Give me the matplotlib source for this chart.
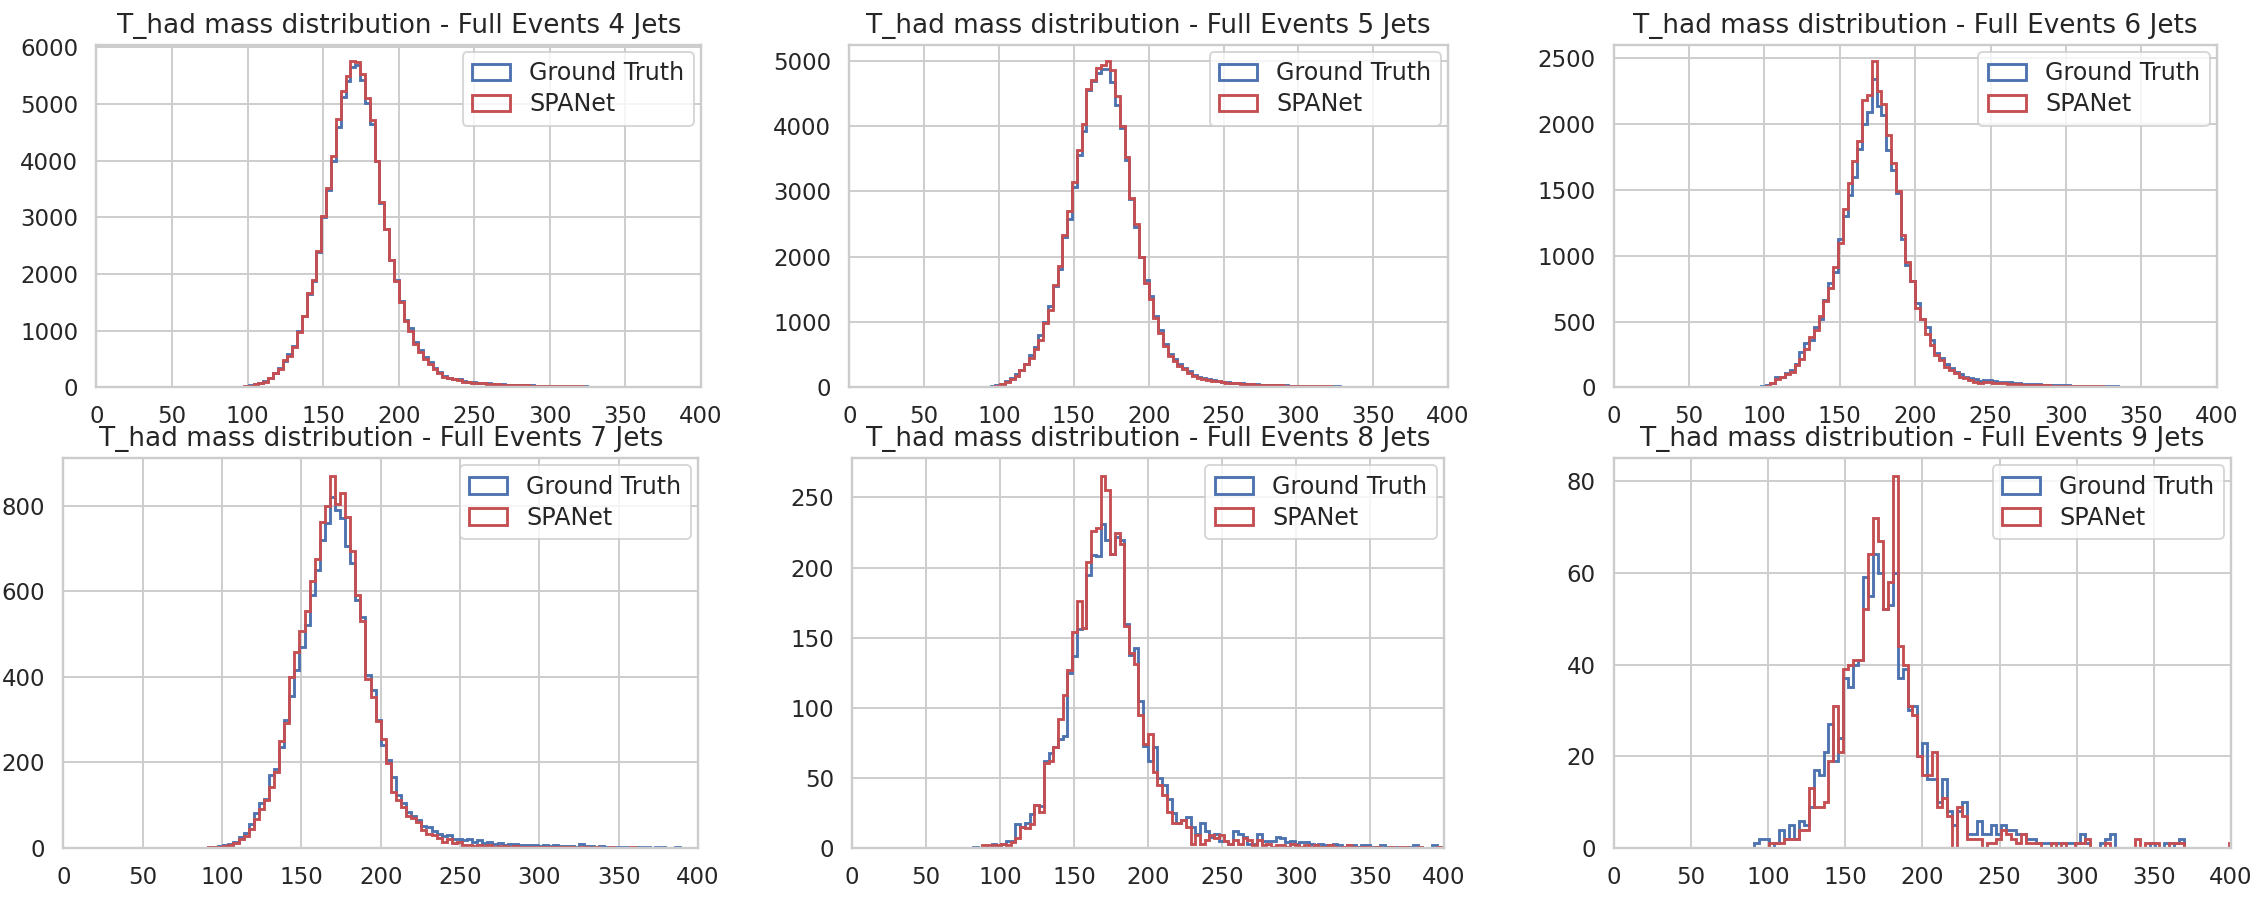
import numpy as np
import matplotlib.pyplot as plt
import seaborn as sns

sns.set_theme(style="whitegrid")

# histogram binning: 125 bins of 3.2 GeV
bin_edges = 1.6 + 3.2 * np.arange(126)
first_bin = 25  # the count lists below start at bin 25 (81.6 GeV)

jet_counts = [4, 5, 6, 7, 8, 9]

# --- 4 jets ---
truth_4j = [0, 3, 6, 9, 14, 22, 34, 52, 75, 110,
            170, 255, 345, 470, 590, 730, 1000, 1260, 1650, 1880,
            2380, 3000, 3490, 4000, 4600, 5130, 5400, 5650, 5680, 5430,
            5020, 4640, 4000, 3260, 2790, 2250, 1900, 1530, 1190, 1040,
            800, 650, 540, 450, 345, 270, 205, 172, 150, 138,
            110, 98, 90, 82, 76, 68, 63, 57, 52, 49,
            45, 43, 39, 37, 33, 31, 28, 26, 24, 23,
            21, 20, 18, 17, 16, 15, 14, 13, 12, 12,
            11, 10, 10, 9, 9, 8, 8, 7, 7, 6,
            6, 6, 5, 5, 5, 4, 4, 4, 3, 3]
spanet_4j = [0, 3, 5, 8, 12, 20, 30, 50, 70, 100,
             160, 245, 330, 480, 560, 710, 970, 1260, 1670, 1900,
             2400, 3030, 3510, 4080, 4740, 5230, 5500, 5760, 5750, 5530,
             5100, 4720, 3990, 3270, 2800, 2250, 1880, 1510, 1170, 1000,
             770, 620, 505, 420, 315, 245, 185, 157, 140, 130,
             100, 90, 82, 75, 70, 62, 58, 52, 48, 45,
             42, 40, 36, 34, 30, 28, 26, 24, 22, 21,
             19, 18, 17, 16, 15, 14, 13, 12, 11, 11,
             10, 9, 9, 8, 8, 7, 7, 6, 6, 6,
             5, 5, 5, 4, 4, 4, 4, 3, 3, 3]

# --- 5 jets ---
truth_5j = [0, 3, 6, 10, 15, 30, 55, 100, 150, 200,
            270, 360, 490, 620, 800, 1000, 1250, 1550, 1820, 2300,
            2580, 3070, 3560, 3920, 4560, 4700, 4820, 4870, 4880, 4680,
            4330, 3980, 3480, 2880, 2450, 1990, 1640, 1400, 1090, 880,
            660, 510, 430, 350, 300, 245, 195, 160, 140, 120,
            108, 97, 88, 80, 72, 66, 60, 55, 50, 46,
            42, 39, 36, 33, 31, 29, 27, 25, 23, 21,
            20, 18, 17, 16, 15, 14, 13, 12, 11, 10,
            10, 9, 9, 8, 8, 7, 7, 6, 6, 6,
            5, 5, 5, 4, 4, 4, 4, 3, 3, 3]
spanet_5j = [0, 3, 5, 8, 12, 25, 45, 80, 130, 180,
             260, 350, 455, 580, 730, 980, 1185, 1560, 1865, 2330,
             2700, 3150, 3630, 4030, 4570, 4710, 4890, 4940, 5000, 4860,
             4460, 4000, 3530, 2900, 2500, 1990, 1600, 1360, 1060, 830,
             630, 480, 400, 330, 280, 225, 175, 150, 125, 110,
             100, 90, 80, 72, 65, 60, 54, 50, 45, 42,
             38, 35, 32, 30, 28, 26, 24, 22, 20, 19,
             18, 16, 15, 14, 13, 12, 11, 10, 10, 9,
             9, 8, 8, 7, 7, 6, 6, 6, 5, 5,
             5, 4, 4, 4, 4, 3, 3, 3, 3, 3]

# --- 6 jets ---
truth_6j = [0, 0, 0, 2, 4, 8, 15, 35, 75, 80,
            105, 130, 175, 265, 340, 360, 455, 520, 665, 790,
            880, 1130, 1300, 1460, 1600, 1810, 2000, 2090, 2340, 2140,
            2070, 1800, 1650, 1475, 1130, 930, 810, 640, 520, 460,
            360, 260, 220, 180, 150, 120, 100, 80, 70, 60,
            50, 55, 52, 45, 42, 40, 38, 35, 30, 28,
            26, 24, 22, 20, 18, 17, 16, 15, 14, 13,
            12, 11, 10, 10, 9, 8, 8, 7, 7, 6,
            6, 6, 5, 5, 5, 4, 4, 4, 4, 3,
            3, 3, 3, 3, 2, 2, 2, 2, 2, 2]
spanet_6j = [0, 0, 0, 2, 3, 5, 10, 30, 60, 80,
             100, 118, 168, 218, 293, 380, 435, 543, 655, 755,
             918, 1093, 1355, 1555, 1718, 1868, 2180, 2218, 2480, 2255,
             2155, 1918, 1705, 1493, 1155, 955, 805, 605, 518, 405,
             318, 243, 205, 155, 130, 105, 80, 68, 55, 43,
             30, 43, 38, 35, 30, 33, 28, 25, 22, 20,
             20, 18, 16, 15, 14, 13, 12, 11, 10, 10,
             9, 9, 8, 8, 7, 7, 6, 6, 6, 5,
             5, 5, 4, 4, 4, 4, 3, 3, 3, 3,
             3, 2, 2, 2, 2, 2, 2, 2, 2, 2]

# --- 7 jets ---
truth_7j = [0, 0, 1, 2, 3, 4, 6, 9, 14, 25,
            35, 55, 82, 105, 115, 170, 185, 235, 300, 355,
            415, 470, 520, 590, 650, 720, 760, 820, 790, 770,
            705, 665, 580, 540, 405, 370, 300, 240, 205, 165,
            125, 105, 85, 75, 65, 52, 48, 40, 32, 28,
            30, 22, 20, 18, 22, 15, 18, 12, 15, 10,
            12, 8, 9, 10, 7, 8, 6, 8, 5, 6,
            4, 6, 5, 4, 5, 3, 10, 4, 5, 3,
            4, 2, 3, 2, 3, 2, 2, 3, 2, 2,
            1, 2, 2, 1, 1, 2, 1, 1, 1, 1]
spanet_7j = [0, 0, 1, 2, 3, 3, 5, 7, 11, 20,
             28, 45, 67, 92, 113, 143, 177, 250, 292, 400,
             459, 506, 553, 623, 676, 762, 800, 868, 804, 830,
             774, 693, 591, 531, 395, 352, 297, 254, 199, 130,
             113, 96, 75, 71, 62, 41, 32, 30, 24, 15,
             20, 11, 15, 7, 6, 5, 8, 4, 6, 3,
             5, 4, 3, 4, 3, 2, 3, 3, 2, 3,
             2, 2, 3, 2, 2, 1, 2, 2, 1, 2,
             1, 1, 2, 1, 1, 1, 2, 1, 1, 1,
             1, 0, 1, 1, 1, 1, 0, 1, 1, 1]

# --- 8 jets ---
truth_8j = [1, 0, 1, 0, 3, 1, 3, 5, 5, 17,
            15, 18, 24, 31, 30, 62, 68, 72, 78, 80,
            125, 137, 156, 157, 195, 209, 208, 231, 220, 210,
            222, 220, 160, 138, 143, 105, 73, 62, 72, 50,
            45, 35, 25, 18, 20, 22, 15, 10, 18, 12,
            8, 10, 5, 5, 3, 12, 10, 8, 3, 3,
            10, 5, 5, 5, 8, 7, 4, 5, 3, 4,
            4, 3, 2, 3, 2, 2, 3, 2, 1, 2,
            2, 1, 2, 2, 1, 1, 2, 1, 1, 1,
            1, 0, 1, 2, 1, 0, 0, 2, 1, 1]
spanet_8j = [0, 0, 2, 2, 2, 2, 3, 2, 4, 7,
             15, 14, 17, 31, 26, 61, 62, 72, 92, 109,
             127, 154, 176, 157, 204, 226, 228, 265, 255, 210,
             225, 217, 158, 139, 131, 95, 74, 81, 54, 45,
             38, 26, 18, 18, 20, 15, 3, 9, 3, 6,
             9, 7, 9, 5, 3, 6, 3, 7, 6, 2,
             6, 2, 3, 1, 2, 2, 1, 3, 2, 1,
             2, 1, 2, 1, 1, 2, 1, 0, 1, 2,
             1, 0, 1, 1, 0, 1, 0, 0, 1, 0,
             1, 1, 0, 0, 1, 0, 0, 0, 1, 0]

# --- 9 jets ---
truth_9j = [0, 0, 0, 1, 2, 2, 0, 1, 4, 2,
            5, 2, 6, 5, 9, 17, 16, 21, 27, 19,
            24, 37, 35, 40, 41, 59, 55, 64, 60, 52,
            53, 60, 37, 39, 30, 31, 20, 23, 15, 15,
            10, 15, 8, 5, 8, 10, 3, 3, 6, 3,
            3, 5, 3, 5, 4, 4, 3, 3, 2, 2,
            1, 1, 1, 1, 1, 1, 1, 1, 1, 3,
            1, 0, 0, 1, 2, 3, 0, 0, 0, 0,
            0, 0, 0, 1, 0, 0, 1, 0, 1, 2,
            0, 0, 0, 0, 0, 0, 0, 0, 0, 0]
spanet_9j = [0, 0, 0, 0, 0, 0, 1, 1, 1, 2,
             2, 2, 4, 4, 13, 9, 9, 10, 19, 31,
             21, 39, 40, 41, 41, 52, 64, 72, 67, 52,
             58, 81, 44, 40, 31, 29, 20, 16, 16, 21,
             9, 11, 7, 0, 9, 7, 2, 2, 2, 0,
             1, 1, 2, 4, 3, 2, 1, 3, 1, 1,
             1, 0, 0, 1, 0, 1, 0, 0, 1, 1,
             2, 0, 0, 0, 1, 0, 0, 0, 0, 0,
             2, 0, 1, 1, 1, 0, 0, 1, 1, 1,
             0, 0, 0, 0, 0, 0, 0, 0, 0, 1]

truth = [truth_4j, truth_5j, truth_6j, truth_7j, truth_8j, truth_9j]
spanet = [spanet_4j, spanet_5j, spanet_6j, spanet_7j, spanet_8j, spanet_9j]


def full_counts(values):
    counts = np.zeros(len(bin_edges) - 1)
    counts[first_bin:first_bin + len(values)] = values
    return counts


centers = 0.5 * (bin_edges[:-1] + bin_edges[1:])

W, H = 1568, 623
# axes boxes (left, right, top, bottom) on a 1568x623 grid
boxes = [(67, 487, 31, 269), (590, 1006, 31, 269), (1121, 1540, 31, 269),
         (44, 485, 318, 589), (592, 1003, 318, 589), (1121, 1550, 318, 589)]

fig = plt.figure(figsize=(2257 / 137, 897 / 137))

for box, n, gt, sp in zip(boxes, jet_counts, truth, spanet):
    l, r, t, b = box
    ax = fig.add_axes([l / W, 1 - b / H, (r - l) / W, (b - t) / H])
    ax.hist(centers, bins=bin_edges, weights=full_counts(gt), histtype="step",
            color="#4C72B0", linewidth=1.5, label="Ground Truth")
    ax.hist(centers, bins=bin_edges, weights=full_counts(sp), histtype="step",
            color="#C44E52", linewidth=1.5, label="SPANet")
    ax.set_xlim(0, 400)
    ax.set_xticks(np.arange(0, 401, 50))
    ax.tick_params(labelsize=12)
    ax.set_title(f"T_had mass distribution - Full Events {n} Jets", fontsize=13.8)
    ax.legend(loc="upper right", fontsize=12.5, handlelength=1.6,
              labelspacing=0.3, borderaxespad=0.3)

fig.savefig("out.png", dpi=137)
